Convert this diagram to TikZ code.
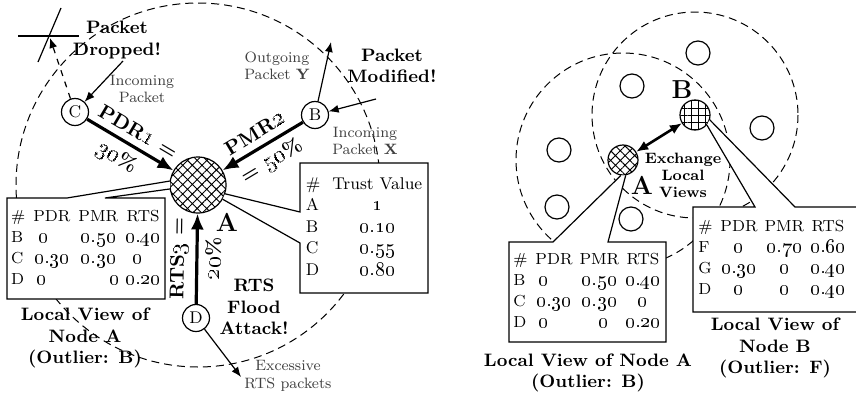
\documentclass[tikz,border=0pt]{standalone}
\usetikzlibrary{patterns.meta,arrows.meta}
\makeatletter
\newcommand\osn[1]{{\fontsize{\fpeval{1.2*\f@size}}{\f@baselineskip}\selectfont\oldstylenums{#1}}}
\makeatother
\begin{document}
\begin{tikzpicture}[x=0.5pt,y=-0.5pt,
  peer/.style={circle,draw,line width=0.6pt,minimum size=13.5pt,inner sep=0pt,font=\fontsize{8.5}{9}\selectfont},
  blank/.style={circle,draw,line width=0.6pt,minimum size=12pt,inner sep=0pt},
  hubbig/.style={circle,draw,line width=0.6pt,minimum size=28pt,inner sep=0pt},
  hubsmall/.style={circle,draw,line width=0.6pt,minimum size=15pt,inner sep=0pt},
  crossfill/.style={pattern={Hatch[angle=45,distance=3.4pt,line width=0.45pt]}},
  gridfill/.style={pattern={Hatch[angle=0,distance=3.6pt,line width=0.45pt]}},
  rangering/.style={line width=0.5pt,dash pattern=on 4pt off 2.5pt},
  heavy/.style={line width=1.6pt,-{Latex[length=8pt,width=6.5pt]}},
  lite/.style={line width=0.6pt,-{Latex[length=5pt,width=4pt]}},
  boxline/.style={line width=0.6pt,fill=white},
  blab/.style={font=\fontsize{9}{10.75}\selectfont\bfseries,align=center},
  slab/.style={font=\fontsize{7.5}{8.75}\selectfont,align=center,text=black!75},
  alab/.style={font=\fontsize{10}{12}\selectfont\bfseries},
  biglab/.style={font=\fontsize{13}{15}\selectfont\bfseries},
  tabnode/.style={font=\fontsize{8}{10.5}\selectfont,inner sep=0pt},
]
\useasboundingbox (0,0) rectangle (856,396);

% ---------------- left scenario ----------------
\node[hubbig,crossfill] (A) at (198,185) {};
\node[peer] (C) at (75,112) {C};
\node[peer] (B) at (315,115) {B};
\node[peer] (D) at (196,318) {D};
\draw[rangering] (A) circle[radius=182];

\draw[heavy] (C) -- (A)
  node[midway,sloped,above,alab] {PDR\osn{1} =}
  node[pos=0.45,sloped,below,alab] {\osn{30}\%};
\draw[heavy] (B) -- (A)
  node[midway,sloped,above,alab] {PMR\osn{2}}
  node[midway,sloped,below,alab] {= \osn{50}\%};
\draw[heavy] (D) -- (A)
  node[midway,sloped,above,alab] {RTS\osn{3} =}
  node[midway,sloped,below,alab] {\osn{20}\%};

% packet dropped
\coordinate (h1) at (18,36);
\coordinate (h2) at (79,36);
\coordinate (s1) at (61,8);
\coordinate (s2) at (38,62);
\coordinate (drop) at (50,38);
\draw[line width=0.6pt] (h1) -- (h2);
\draw[line width=0.6pt] (s1) -- (s2);
\draw[lite,dash pattern=on 3pt off 3pt] (C) -- (drop);
\coordinate (inC) at (123,61);
\draw[lite] (inC) -- (C);
\node[blab] (pd) at (117,40) {Packet\\Dropped!};
\node[slab] (ic) at (142,89) {Incoming\\Packet};

% packet modified
\coordinate (outB) at (331,42);
\coordinate (inB) at (376,99);
\draw[lite] (B) -- (outB);
\draw[lite] (inB) -- (B);
\node[slab] (og) at (277,66) {Outgoing\\Packet \textbf{Y}};
\node[blab] (pm) at (392,66) {Packet\\Modified!};
\node[slab] (ib) at (365,141) {Incoming\\Packet \textbf{X}};

% RTS flood
\coordinate (exD) at (241,377);
\draw[lite] (D) -- (exD);
\node[blab] (rf) at (254,307) {RTS\\Flood\\Attack!};
\node[slab] (ex) at (288,376) {Excessive\\RTS packets};
\node[biglab] (Alab) at (227,222) {A};

% local view table of A
\filldraw[boxline] (A.172) -- (67,198) -- (7,198) -- (7,299) -- (165,299) -- (165,198) -- (105,198) -- (A.188);
\node[tabnode] (tA) at (86,249) {\begin{tabular}{@{}l@{\hspace{4pt}}c@{\hspace{3.5pt}}c@{\hspace{3pt}}c@{}}
\# & PDR & PMR & RTS\\
B & \hspace*{-8pt}\osn{0} & \osn{0.50} & \osn{0.40}\\
C & \osn{0.30} & \osn{0.30} & \hspace*{-6pt}\osn{0}\\
D & \hspace*{-10pt}\osn{0} & \hspace*{16pt}\osn{0} & \osn{0.20}
\end{tabular}};
\node[blab] (lvA) at (85,338) {Local View of\\Node A\\(Outlier: B)};

% trust table
\filldraw[boxline] (A.-18) -- (300,212) -- (300,163) -- (428,163) -- (428,293) -- (300,293) -- (300,243) -- (A.-30);
\node[tabnode,font=\fontsize{8.5}{10.75}\selectfont] (tT) at (364,228) {\begin{tabular}{@{}l@{\hspace{6pt}}c@{}}
\# & Trust Value\\
A & \osn{1}\\
B & \osn{0.10}\\
C & \osn{0.55}\\
D & \osn{0.80}
\end{tabular}};

% ---------------- right scenario ----------------
\node[hubsmall,crossfill] (A2) at (623,160) {};
\node[hubsmall,gridfill] (B2) at (695,115) {};
\draw[rangering] (A2) circle[radius=107];
\draw[rangering] (B2) circle[radius=103];
\node[blank] (n1) at (698,53) {};
\node[blank] (n2) at (632,86) {};
\node[blank] (n3) at (762,128) {};
\node[blank] (n4) at (559,150) {};
\node[blank] (n5) at (557,207) {};
\node[blank] (n6) at (631,219) {};
\draw[line width=1.3pt,{Latex[length=6pt,width=5pt]}-{Latex[length=6pt,width=5pt]}] (A2) -- (B2);
\node[biglab] (B2lab) at (682,90) {B};
\node[biglab] (A2lab) at (642,185) {A};
\node[blab,font=\fontsize{7.5}{8.5}\selectfont\bfseries] (exl) at (683,175) {Exchange\\Local\\Views};

\filldraw[boxline] (A2.262) -- (553,242) -- (509,242) -- (509,342) -- (666,342) -- (666,242) -- (608,242) -- (A2.280);
\node[tabnode] (tA2) at (587,292) {\begin{tabular}{@{}l@{\hspace{4pt}}c@{\hspace{3.5pt}}c@{\hspace{3pt}}c@{}}
\# & PDR & PMR & RTS\\
B & \hspace*{-10pt}\osn{0} & \osn{0.50} & \osn{0.40}\\
C & \osn{0.30} & \osn{0.30} & \osn{0}\\
D & \hspace*{-10pt}\osn{0} & \hspace*{4pt}\osn{0} & \osn{0.20}
\end{tabular}};
\node[blab] (lvA2) at (588,373) {Local View of Node A\\(Outlier: B)};

\fill[white] (B2.-40) -- (755,207) -- (693,207) -- (693,312) -- (862,312) -- (862,207) -- (795,207) -- (B2.-18) -- cycle;
\draw[line width=0.6pt] (B2.-40) -- (755,207) -- (693,207) -- (693,312) -- (862,312);
\draw[line width=0.6pt] (B2.-18) -- (795,207) -- (862,207);
\node[tabnode] (tB2) at (772,259) {\begin{tabular}{@{}l@{\hspace{4pt}}c@{\hspace{3.5pt}}c@{\hspace{3pt}}c@{}}
\# & PDR & PMR & RTS\\
F & \osn{0} & \osn{0.70} & \osn{0.60}\\
G & \osn{0.30} & \osn{0} & \osn{0.40}\\
D & \osn{0} & \osn{0} & \osn{0.40}
\end{tabular}};
\node[blab] (lvB2) at (775,348) {Local View of\\Node B\\(Outlier: F)};
\end{tikzpicture}
\end{document}
